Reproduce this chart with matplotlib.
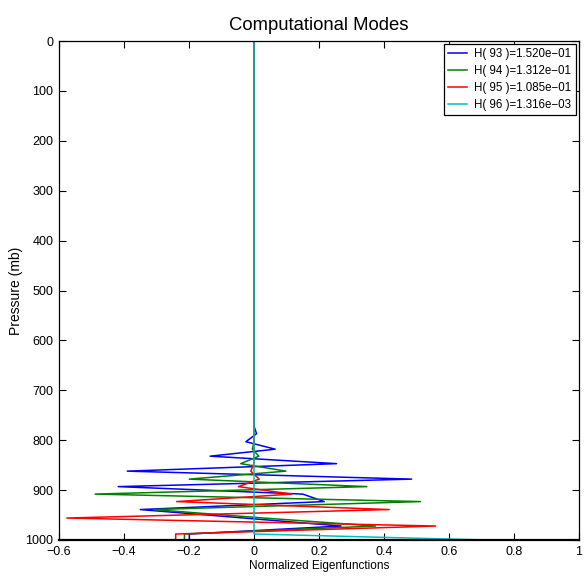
import matplotlib
matplotlib.use("Agg")
import matplotlib.pyplot as plt

# pressure levels (mb) and normalized eigenfunctions
pressure = [0, 772, 787, 803, 818, 832, 847, 862, 878, 893, 908, 923, 939, 956, 972, 988, 1000]

mode_93 = [0, 0, 0.008, -0.025, 0.065, -0.135, 0.254, -0.39, 0.485, -0.418,
           0.15, 0.216, -0.35, -0.03, 0.268, -0.199, -0.199]
mode_94 = [0, 0, 0, 0.0, -0.005, 0.015, -0.041, 0.098, -0.199, 0.347,
           -0.489, 0.512, -0.31, 0.03, 0.374, -0.214, -0.214]
mode_95 = [0, 0, 0, 0, 0, 0, 0, -0.01, 0.016, -0.048,
           0.116, -0.238, 0.416, -0.576, 0.559, -0.241, -0.241]
mode_96 = [0, 0, 0, 0, 0, 0, 0, 0, 0, 0,
           0, 0, 0, 0, 0, 0, 0.716]

labels = ["H( 93 )=1.520e\u221201", "H( 94 )=1.312e\u221201",
          "H( 95 )=1.085e\u221201", "H( 96 )=1.316e\u221203"]
colors = ["#0000ff", "#008000", "#ff0000", "#00bfbf"]

xticks = [-0.6, -0.4, -0.2, 0, 0.2, 0.4, 0.6, 0.8, 1]
xticklabels = ["\u22120.6", "\u22120.4", "\u22120.2", "0", "0.2", "0.4", "0.6", "0.8", "1"]
yticks = list(range(0, 1001, 100))

plt.rcParams["font.family"] = ["Liberation Sans", "DejaVu Sans"]

fig = plt.figure(figsize=(5.84, 5.83), dpi=100)
ax = fig.add_axes([59 / 584, 1 - 540 / 583, 520 / 584, 499 / 583])

for vals, lab, col in zip([mode_93, mode_94, mode_95, mode_96], labels, colors):
    ax.plot(vals, pressure, color=col, linewidth=1.1, label=lab)

ax.set_xlim(-0.6, 1)
ax.set_ylim(1000, 0)
ax.set_xticks(xticks)
ax.set_xticklabels(xticklabels)
ax.set_yticks(yticks)
ax.tick_params(direction="in", top=True, right=True, labelsize=9, length=5, width=0.8, pad=4)
for s in ax.spines.values():
    s.set_linewidth(0.9)
ax.spines["bottom"].set_linewidth(1.6)

ax.set_title("Computational Modes", fontsize=13.3, pad=8)
ax.set_xlabel("Normalized Eigenfunctions", fontsize=8.5, labelpad=2)
ax.set_ylabel("Pressure (mb)", fontsize=10, labelpad=2)

leg = ax.legend(loc="upper right", fontsize=8.3, fancybox=False, framealpha=1,
                edgecolor="black", borderaxespad=0.3, handlelength=1.7,
                labelspacing=0.42, borderpad=0.35, handletextpad=0.6)
leg.get_frame().set_linewidth(0.9)

fig.savefig("out.png", dpi=100)
